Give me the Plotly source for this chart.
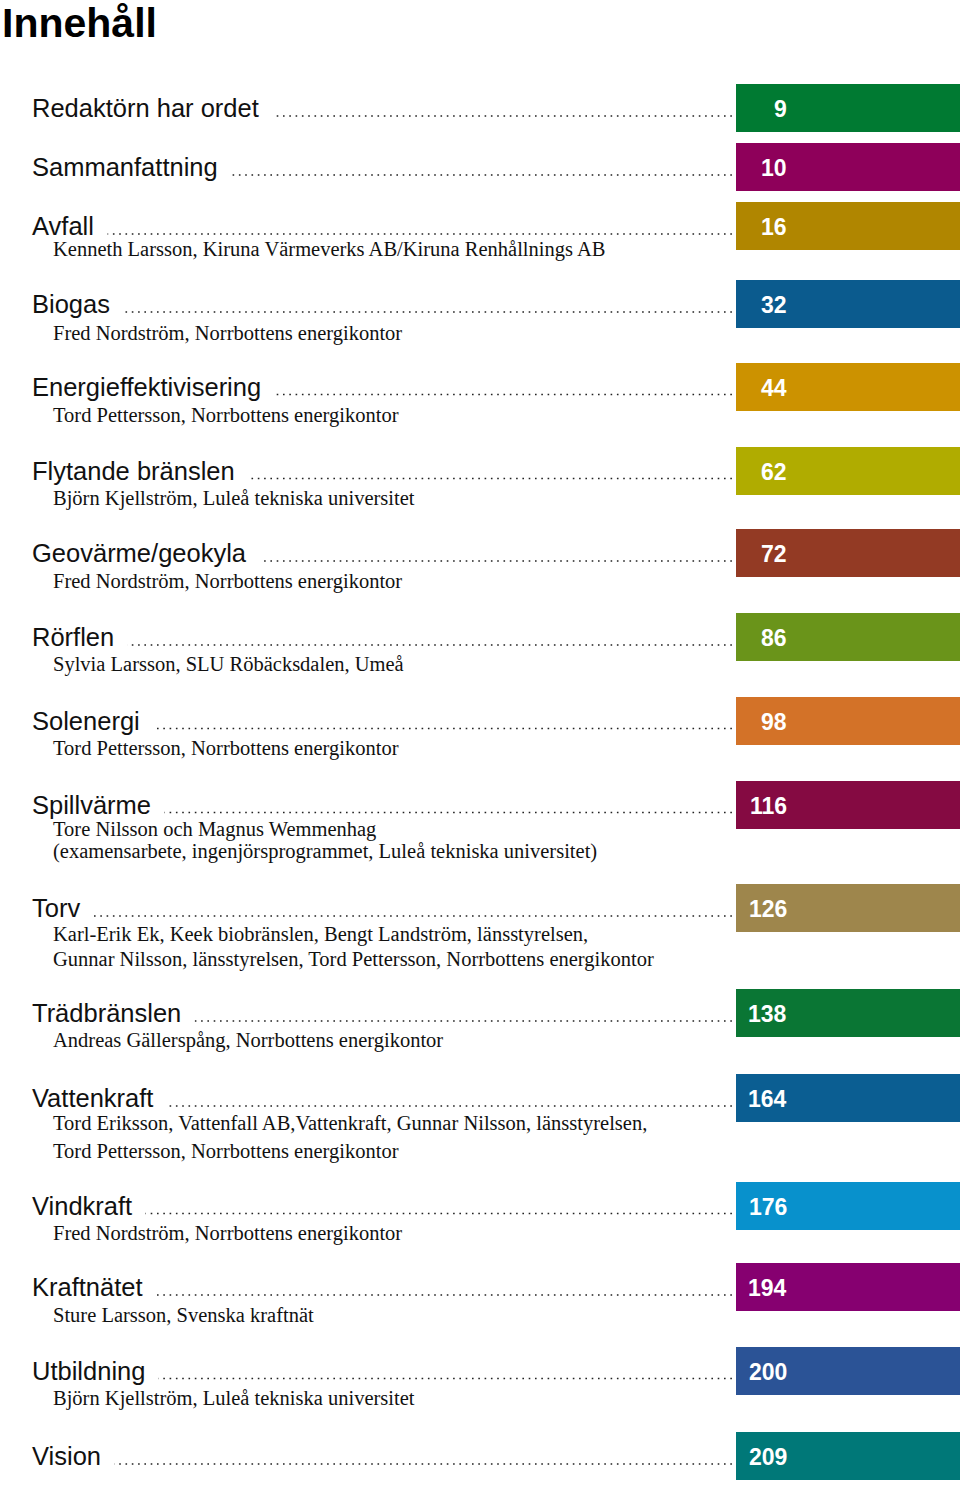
import plotly.graph_objects as go

# ---- data ----
heading = "Innehåll"
titles = ["Redaktörn har ordet", "Sammanfattning", "Avfall", "Biogas",
          "Energieffektivisering", "Flytande bränslen", "Geovärme/geokyla",
          "Rörflen", "Solenergi", "Spillvärme", "Torv", "Trädbränslen",
          "Vattenkraft", "Vindkraft", "Kraftnätet", "Utbildning", "Vision"]
pages = [9, 10, 16, 32, 44, 62, 72, 86, 98, 116, 126, 138, 164, 176, 194, 200, 209]
authors = [
    [],
    [],
    ["Kenneth Larsson, Kiruna Värmeverks AB/Kiruna Renhållnings AB"],
    ["Fred Nordström, Norrbottens energikontor"],
    ["Tord Pettersson, Norrbottens energikontor"],
    ["Björn Kjellström, Luleå tekniska universitet"],
    ["Fred Nordström, Norrbottens energikontor"],
    ["Sylvia Larsson, SLU Röbäcksdalen, Umeå"],
    ["Tord Pettersson, Norrbottens energikontor"],
    ["Tore Nilsson och Magnus Wemmenhag",
     "(examensarbete, ingenjörsprogrammet, Luleå tekniska universitet)"],
    ["Karl-Erik Ek, Keek biobränslen, Bengt Landström, länsstyrelsen,",
     "Gunnar Nilsson, länsstyrelsen, Tord Pettersson, Norrbottens energikontor"],
    ["Andreas Gällerspång, Norrbottens energikontor"],
    ["Tord Eriksson, Vattenfall AB,Vattenkraft, Gunnar Nilsson, länsstyrelsen,",
     "Tord Pettersson, Norrbottens energikontor"],
    ["Fred Nordström, Norrbottens energikontor"],
    ["Sture Larsson, Svenska kraftnät"],
    ["Björn Kjellström, Luleå tekniska universitet"],
    [],
]

# ---- layout (pixel positions on the page) ----
row_y = [108, 167, 226, 304, 386.5, 470.5, 553, 637, 720.5, 804.5, 908,
         1013, 1098, 1205.5, 1287, 1370.5, 1456]
author_y = [[], [], [249], [333], [415], [498], [581], [664], [748],
            [829, 851], [934, 959], [1040], [1123, 1151], [1233], [1315],
            [1398], []]
colors = ["#007A32", "#8E005A", "#B08600", "#0B5B8E", "#CC9200", "#B0AC00",
          "#933A24", "#6A941A", "#D37228", "#850A42", "#9E864C", "#0A7634",
          "#0B5E92", "#0891CC", "#860070", "#2B5396", "#007878"]

W, H = 960, 1488
BAR_X0 = 736
BAR_H = 48
TEXT_X = 31
AUTHOR_X = 51
LEADER_END = 735
NUM_RIGHT = 789

fig = go.Figure()
fig.add_trace(go.Bar(
    orientation="h",
    y=row_y,
    x=[W - BAR_X0] * len(row_y),
    base=BAR_X0,
    width=BAR_H,
    marker=dict(color=colors, line=dict(width=0)),
    hoverinfo="skip",
))

shapes = []
annotations = []

# dotted leaders
for y in row_y:
    shapes.append(dict(type="line", xref="x", yref="y",
                       x0=TEXT_X, x1=LEADER_END, y0=y + 8, y1=y + 8,
                       line=dict(color="#222222", width=1.6, dash="1.6px,4.7px")))

PAD = 13
# titles (white box hides leader under the text)
for t, y in zip(titles, row_y):
    annotations.append(dict(
        x=TEXT_X - PAD, y=y, xref="x", yref="y", text=t, showarrow=False,
        xanchor="left", yanchor="middle", bgcolor="white", borderpad=PAD,
        font=dict(family="Liberation Sans, Arial, sans-serif", size=25.5, color="#111111"),
    ))

# authors
for lines, ys in zip(authors, author_y):
    for line, y in zip(lines, ys):
        annotations.append(dict(
            x=AUTHOR_X, y=y, xref="x", yref="y", text=line, showarrow=False,
            xanchor="left", yanchor="middle",
            font=dict(family="Liberation Serif, Times New Roman, serif", size=20.5, color="#111111"),
        ))

# page numbers
for p, y in zip(pages, row_y):
    annotations.append(dict(
        x=NUM_RIGHT, y=y + 1, xref="x", yref="y", text=str(p), showarrow=False,
        xanchor="right", yanchor="middle",
        font=dict(family="Liberation Sans, Arial, sans-serif", size=23, color="white", weight="bold"),
    ))

# heading
annotations.append(dict(
    x=0, y=23, xref="paper", yref="y", text=heading, showarrow=False,
    xanchor="left", yanchor="middle",
    font=dict(family="Liberation Sans, Arial, sans-serif", size=41, color="#000000", weight="bold"),
))

fig.update_layout(
    width=W, height=H,
    margin=dict(l=0, r=0, t=0, b=0),
    paper_bgcolor="white", plot_bgcolor="white",
    showlegend=False,
    xaxis=dict(range=[0, W], visible=False, fixedrange=True),
    yaxis=dict(range=[H, 0], visible=False, fixedrange=True),
    shapes=shapes, annotations=annotations,
    bargap=0,
)

fig.write_html("out.html", config={"displayModeBar": False},
               post_script="document.body.style.margin='0';")
